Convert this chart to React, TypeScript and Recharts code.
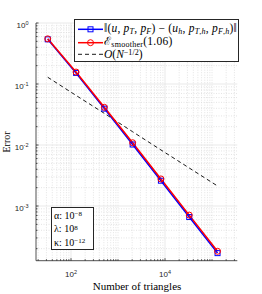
import React from 'react';
import { LineChart, Line, XAxis, YAxis, ReferenceLine } from 'recharts';

const triangles = [32, 128, 512, 2048, 8192, 32768, 131072];
const errorNorm = [0.54, 0.152, 0.0395, 0.0102, 0.0026, 0.00066, 0.000169];
const smootherEstimate = [0.55, 0.157, 0.0415, 0.0109, 0.00278, 0.00071, 0.000181];
const referenceRate = [0.129, 0.065, 0.033, 0.0165, 0.0083, 0.0042, 0.00213];

const xDomain = [18, 345000];
const yDomain = [1.27e-4, 1];
const xMajorTicks = [100, 10000];
const xMinorTicks = [
  20, 30, 40, 50, 60, 70, 80, 90,
  200, 300, 400, 500, 600, 700, 800, 900, 1000,
  2000, 3000, 4000, 5000, 6000, 7000, 8000, 9000,
  20000, 30000, 40000, 50000, 60000, 70000, 80000, 90000, 100000,
  200000, 300000,
];
const yMajorTicks = [0.001, 0.01, 0.1, 1];
const yMinorTicks = [
  0.0002, 0.0003, 0.0004, 0.0005, 0.0006, 0.0007, 0.0008, 0.0009,
  0.002, 0.003, 0.004, 0.005, 0.006, 0.007, 0.008, 0.009,
  0.02, 0.03, 0.04, 0.05, 0.06, 0.07, 0.08, 0.09,
  0.2, 0.3, 0.4, 0.5, 0.6, 0.7, 0.8, 0.9,
];
const xTickLabels: Record<number, string> = { 100: '2', 10000: '4' };
const yTickLabels: Record<number, string> = { 0.001: '-3', 0.01: '-2', 0.1: '-1', 1: '0' };

const data = triangles.map((n, i) => ({
  n,
  err: errorNorm[i],
  est: smootherEstimate[i],
  ref: referenceRate[i],
}));

const AXIS = '#262626';
const SANS = '"Liberation Sans", Arial, sans-serif';
const SERIF = '"Liberation Serif", "Times New Roman", serif';

const XTick = (props: any) => {
  const { x, y, payload } = props;
  const v = payload.value;
  const major = xMajorTicks.includes(v);
  const lab = xTickLabels[v];
  return (
    <g>
      <line x1={x} x2={x} y1={y} y2={y - (major ? 2.5 : 1.5)} stroke={AXIS} strokeWidth={0.8} />
      {lab && (
        <text x={x} y={y + 16.5} textAnchor="middle" fontFamily={SANS} fontSize={8} fill={AXIS}>
          10<tspan dy={-3.5} fontSize={5.5}>{lab}</tspan>
        </text>
      )}
    </g>
  );
};

const YTick = (props: any) => {
  const { x, y, payload } = props;
  const v = payload.value;
  const major = yMajorTicks.includes(v);
  const lab = yTickLabels[v];
  return (
    <g>
      <line x1={x} x2={x + (major ? 2.5 : 1.5)} y1={y} y2={y} stroke={AXIS} strokeWidth={0.8} />
      {lab && (
        <text x={x - 7.5} y={y + 5} textAnchor="end" fontFamily={SANS} fontSize={8} fill={AXIS}>
          10<tspan dy={-3.5} fontSize={5.5}>{lab}</tspan>
        </text>
      )}
    </g>
  );
};

const SquareDot = (props: any) => {
  const { cx, cy, index } = props;
  if (cx == null || cy == null) return <g key={`s${index}`} />;
  return (
    <rect key={`s${index}`} x={cx - 2.5} y={cy - 2.5} width={5} height={5} fill="none" stroke="#0000ff" strokeWidth={1} />
  );
};

const I = ({ children }: any) => <span style={{ fontStyle: 'italic' }}>{children}</span>;
const Sub = ({ children }: any) => (
  <span style={{ fontSize: '0.7em', position: 'relative', top: '0.25em' }}>{children}</span>
);
const Sup = ({ children }: any) => (
  <span style={{ fontSize: '0.7em', position: 'relative', top: '-0.4em' }}>{children}</span>
);

export default function App() {
  const allX = [...xMajorTicks, ...xMinorTicks].sort((a, b) => a - b);
  const allY = [...yMajorTicks, ...yMinorTicks].sort((a, b) => a - b);
  return (
    <div style={{ position: 'absolute', left: 0, top: 0, width: 262, height: 294, background: '#fff' }}>
      <LineChart width={262} height={294} data={data} margin={{ top: 23, right: 24.7, bottom: 0, left: 0 }}>
        {xMinorTicks.map((v) => (
          <ReferenceLine key={`xm${v}`} x={v} stroke="#d9d9d9" strokeWidth={0.7} strokeDasharray="1 1.5" />
        ))}
        {yMinorTicks.map((v) => (
          <ReferenceLine key={`ym${v}`} y={v} stroke="#d9d9d9" strokeWidth={0.7} strokeDasharray="1 1.5" />
        ))}
        {xMajorTicks.map((v) => (
          <ReferenceLine key={`xM${v}`} x={v} stroke="#e3e3e3" strokeWidth={0.8} />
        ))}
        {yMajorTicks.map((v) => (
          <ReferenceLine key={`yM${v}`} y={v} stroke="#e3e3e3" strokeWidth={0.8} />
        ))}
        <XAxis
          dataKey="n"
          type="number"
          scale="log"
          domain={xDomain}
          allowDataOverflow
          ticks={allX}
          interval={0}
          height={33.3}
          tickSize={0}
          tickMargin={0}
          tickLine={false}
          tick={<XTick />}
          axisLine={{ stroke: AXIS, strokeWidth: 0.8 }}
        />
        <YAxis
          type="number"
          scale="log"
          domain={yDomain}
          allowDataOverflow
          ticks={allY}
          interval={0}
          width={36}
          tickSize={0}
          tickMargin={0}
          tickLine={false}
          tick={<YTick />}
          axisLine={{ stroke: AXIS, strokeWidth: 0.8 }}
        />
        <Line dataKey="ref" stroke="#000" strokeWidth={0.9} strokeDasharray="4 3" dot={false} isAnimationActive={false} />
        <Line dataKey="err" stroke="#0000ff" strokeWidth={1.5} dot={SquareDot} isAnimationActive={false} />
        <Line dataKey="est" stroke="#ff0000" strokeWidth={1.5} dot={{ r: 3, fill: 'none', stroke: '#ff0000', strokeWidth: 1 }} isAnimationActive={false} />
      </LineChart>

      <svg width={262} height={294} style={{ position: 'absolute', left: 0, top: 0, pointerEvents: 'none' }}>
        <text x={10} y={142} transform="rotate(-90 10 142)" textAnchor="middle" fontFamily={SERIF} fontSize={10} fill="#000">Error</text>
        <text x={137} y={290} textAnchor="middle" fontFamily={SERIF} fontSize={11} fill="#000">Number of triangles</text>
      </svg>

      <div style={{ position: 'absolute', left: 74, top: 19, width: 165, height: 43, boxSizing: 'border-box', border: `1px solid ${AXIS}`, background: '#fff', fontFamily: SERIF, fontSize: 11.5, color: '#000' }}>
        <svg width={30} height={43} style={{ position: 'absolute', left: 2, top: -1 }}>
          <line x1={1} x2={26} y1={10.3} y2={10.3} stroke="#0000ff" strokeWidth={1.5} />
          <rect x={11} y={7.8} width={5} height={5} fill="none" stroke="#0000ff" strokeWidth={1} />
          <line x1={1} x2={26} y1={23.7} y2={23.7} stroke="#ff0000" strokeWidth={1.5} />
          <circle cx={13.5} cy={23.7} r={3} fill="none" stroke="#ff0000" strokeWidth={1} />
          <line x1={1} x2={26} y1={35.3} y2={35.3} stroke="#000" strokeWidth={0.9} strokeDasharray="4 3" />
        </svg>
        <div style={{ position: 'absolute', left: 29, top: 2, whiteSpace: 'nowrap', lineHeight: '12px', letterSpacing: 0.2 }}>
          ‖(<I>u</I>, <I>p</I><Sub><I>T</I></Sub>, <I>p</I><Sub><I>F</I></Sub>) − (<I>u</I><Sub><I>h</I></Sub>, <I>p</I><Sub><I>T</I>,<I>h</I></Sub>, <I>p</I><Sub><I>F</I>,<I>h</I></Sub>)‖
        </div>
        <div style={{ position: 'absolute', left: 29, top: 15, whiteSpace: 'nowrap', lineHeight: '12px', letterSpacing: 0.25 }}>
          ℰ<Sub>smoother</Sub>(1.06)
        </div>
        <div style={{ position: 'absolute', left: 29, top: 28, whiteSpace: 'nowrap', lineHeight: '12px' }}>
          <I>O</I>(<I>N</I><Sup>−1/2</Sup>)
        </div>
      </div>

      <div style={{ position: 'absolute', left: 51, top: 207, width: 43, height: 43, boxSizing: 'border-box', border: `1px solid ${AXIS}`, background: '#fff', fontFamily: SERIF, fontSize: 10, color: '#000', lineHeight: '12.3px', padding: '2px 0 0 2px' }}>
        <div style={{ whiteSpace: 'nowrap' }}>α: 10<Sup>−8</Sup></div>
        <div style={{ whiteSpace: 'nowrap' }}>λ: 10<Sup>8</Sup></div>
        <div style={{ whiteSpace: 'nowrap' }}>κ: 10<Sup>−12</Sup></div>
      </div>
    </div>
  );
}
